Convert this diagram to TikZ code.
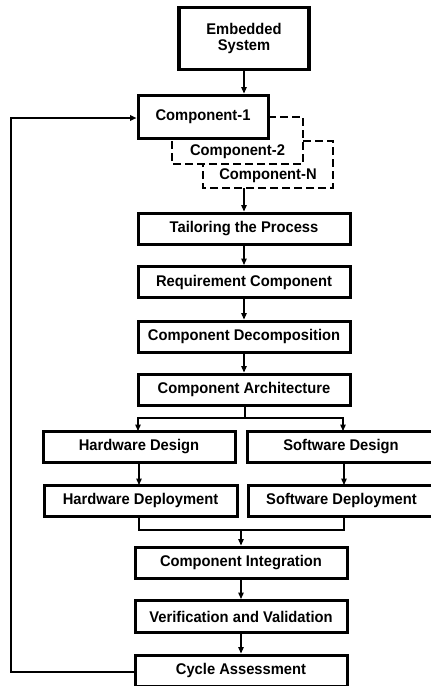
\documentclass[tikz,border=0pt]{standalone}
\usepackage{fontspec}
\setmainfont{Liberation Sans}[FakeStretch=0.95]
\usetikzlibrary{arrows.meta}
\begin{document}
\begin{tikzpicture}[x=1pt,y=-1pt,
  box/.style={draw=black,line width=3pt,fill=white,inner sep=0pt,
    font=\fontsize{15.5}{17}\selectfont\bfseries,align=center},
  dbox/.style={inner sep=0pt,font=\fontsize{15.5}{17}\selectfont\bfseries},
  dline/.style={line width=2.7pt,dash pattern=on 8pt off 4pt},
  conn/.style={line width=1.3pt,-{Triangle[length=6.5pt,width=5.5pt]}},
  plain/.style={line width=1.3pt}]
\useasboundingbox (0,0) rectangle (431,686);
% dashed stacked components
\node[dbox] (c2) at (237.5,152) {Component-2};
\node[dbox] (cN) at (268,175.5) {Component-N};
\draw[dline] (268,117) -- (303,117) -- (303,164) -- (172,164) -- (172,138);
\draw[dline] (303,141) -- (333,141) -- (333,188) -- (203,188) -- (203,164);
\coordinate (cNb) at (244,188);
% main boxes
\node[box,minimum width=130pt,minimum height=62pt,line width=3.6pt] (emb) at (244,38.5) {Embedded\\[-1pt]System};
\node[box,minimum width=130pt,minimum height=43pt] (c1) at (203,116.5) {Component-1};
\node[box,minimum width=212pt,minimum height=31pt] (tail) at (244,228.5) {Tailoring the Process};
\node[box,minimum width=212pt,minimum height=31pt] (req) at (244,282) {Requirement Component};
\node[box,minimum width=212pt,minimum height=31pt] (dec) at (244,336.5) {Component Decomposition};
\node[box,minimum width=212pt,minimum height=31pt] (arch) at (244,389.5) {Component Architecture};
\node[box,minimum width=192pt,minimum height=31pt] (hwd) at (139,446.5) {Hardware Design};
\node[box,minimum width=188pt,minimum height=31pt] (swd) at (341,446.5) {Software Design};
\node[box,minimum width=193pt,minimum height=31pt] (hwp) at (140.5,500.5) {Hardware Deployment};
\node[box,minimum width=187pt,minimum height=31pt] (swp) at (341.5,500.5) {Software Deployment};
\node[box,minimum width=212pt,minimum height=31pt] (ci) at (241,562.5) {Component Integration};
\node[box,minimum width=212pt,minimum height=32pt] (vv) at (241,616.5) {Verification and Validation};
\node[box,minimum width=212pt,minimum height=31pt] (ca) at (241,670.5) {Cycle Assessment};
% connectors
\draw[conn] (emb.south) -- (emb.south |- c1.north);
\draw[conn] (cNb) -- (cNb |- tail.north);
\draw[conn] (tail) -- (req);
\draw[conn] (req) -- (dec);
\draw[conn] (dec) -- (arch);
\coordinate (split) at (245,418);
\draw[plain] (arch.south -| split) -- (split);
\draw[conn] (split) -| (138,431);
\draw[conn] (split) -| (343,431);
\draw[conn] (139,462) -- (139,485);
\draw[conn] (344,462) -- (344,485);
\coordinate (merge) at (241,530);
\draw[plain] (139,516) |- (merge) -| (344,516);
\draw[conn] (merge) -- (ci.north);
\draw[conn] (ci) -- (vv);
\draw[conn] (vv) -- (ca);
\draw[line width=1.6pt,-{Triangle[length=6.5pt,width=5.5pt]}] (ca.west |- 0,672) -- (11,672) -- (11,118) -- (c1.west |- 0,118);
\end{tikzpicture}
\end{document}
